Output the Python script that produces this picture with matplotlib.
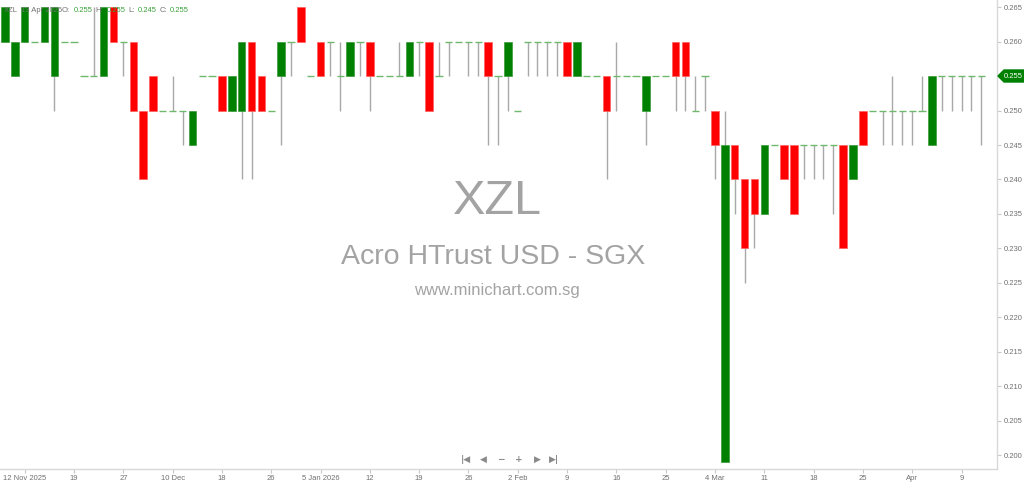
import numpy as np
import matplotlib
matplotlib.use('Agg')
import matplotlib.pyplot as plt
from matplotlib.patches import Polygon

# OHLC values (one row per trading day)
opens = [0.260, 0.255, 0.260, 0.260, 0.260, 0.255, 0.260, 0.260, 0.255, 0.255,
         0.255, 0.265, 0.260, 0.260, 0.250, 0.255, 0.250, 0.250, 0.250, 0.245,
         0.255, 0.255, 0.255, 0.250, 0.250, 0.260, 0.255, 0.250, 0.255, 0.260,
         0.265, 0.255, 0.260, 0.260, 0.255, 0.255, 0.260, 0.260, 0.255, 0.255,
         0.255, 0.255, 0.260, 0.260, 0.255, 0.260, 0.260, 0.260, 0.260, 0.260,
         0.255, 0.255, 0.250, 0.260, 0.260, 0.260, 0.260, 0.260, 0.255, 0.255,
         0.255, 0.255, 0.255, 0.255, 0.255, 0.250, 0.255, 0.255, 0.260, 0.260,
         0.250, 0.255, 0.250, 0.199, 0.245, 0.240, 0.240, 0.235, 0.245, 0.245,
         0.245, 0.245, 0.245, 0.245, 0.245, 0.245, 0.240, 0.250, 0.250, 0.250,
         0.250, 0.250, 0.250, 0.250, 0.245, 0.255, 0.255, 0.255, 0.255, 0.255]
highs = [0.265, 0.260, 0.265, 0.260, 0.265, 0.265, 0.260, 0.260, 0.255, 0.265,
         0.265, 0.265, 0.260, 0.260, 0.250, 0.255, 0.250, 0.255, 0.250, 0.250,
         0.255, 0.255, 0.255, 0.255, 0.260, 0.260, 0.255, 0.250, 0.260, 0.260,
         0.265, 0.255, 0.260, 0.260, 0.260, 0.260, 0.260, 0.260, 0.255, 0.255,
         0.260, 0.260, 0.260, 0.260, 0.260, 0.260, 0.260, 0.260, 0.260, 0.260,
         0.255, 0.260, 0.250, 0.260, 0.260, 0.260, 0.260, 0.260, 0.260, 0.255,
         0.255, 0.255, 0.260, 0.255, 0.255, 0.255, 0.255, 0.255, 0.260, 0.260,
         0.255, 0.255, 0.250, 0.250, 0.245, 0.240, 0.240, 0.245, 0.245, 0.245,
         0.245, 0.245, 0.245, 0.245, 0.245, 0.245, 0.245, 0.250, 0.250, 0.250,
         0.255, 0.250, 0.250, 0.255, 0.255, 0.255, 0.255, 0.255, 0.255, 0.255]
lows = [0.260, 0.255, 0.260, 0.260, 0.260, 0.250, 0.260, 0.260, 0.255, 0.255,
        0.255, 0.260, 0.255, 0.250, 0.240, 0.250, 0.250, 0.250, 0.245, 0.245,
        0.255, 0.255, 0.250, 0.250, 0.240, 0.240, 0.250, 0.250, 0.245, 0.255,
        0.260, 0.255, 0.255, 0.255, 0.250, 0.255, 0.255, 0.250, 0.255, 0.255,
        0.255, 0.255, 0.255, 0.250, 0.255, 0.255, 0.260, 0.255, 0.255, 0.245,
        0.245, 0.250, 0.250, 0.255, 0.255, 0.255, 0.255, 0.255, 0.255, 0.255,
        0.255, 0.240, 0.250, 0.255, 0.255, 0.245, 0.255, 0.255, 0.250, 0.250,
        0.250, 0.250, 0.240, 0.199, 0.235, 0.225, 0.230, 0.235, 0.245, 0.240,
        0.235, 0.240, 0.240, 0.240, 0.235, 0.230, 0.240, 0.245, 0.250, 0.245,
        0.245, 0.245, 0.245, 0.250, 0.245, 0.250, 0.250, 0.250, 0.250, 0.245]
closes = [0.265, 0.260, 0.265, 0.260, 0.265, 0.265, 0.260, 0.260, 0.255, 0.255,
          0.265, 0.260, 0.260, 0.250, 0.240, 0.250, 0.250, 0.250, 0.250, 0.250,
          0.255, 0.255, 0.250, 0.255, 0.260, 0.250, 0.250, 0.250, 0.260, 0.260,
          0.260, 0.255, 0.255, 0.260, 0.255, 0.260, 0.260, 0.255, 0.255, 0.255,
          0.255, 0.260, 0.260, 0.250, 0.255, 0.260, 0.260, 0.260, 0.260, 0.255,
          0.255, 0.260, 0.250, 0.260, 0.260, 0.260, 0.260, 0.255, 0.260, 0.255,
          0.255, 0.250, 0.255, 0.255, 0.255, 0.255, 0.255, 0.255, 0.255, 0.255,
          0.250, 0.255, 0.245, 0.245, 0.240, 0.230, 0.235, 0.245, 0.245, 0.240,
          0.235, 0.245, 0.245, 0.245, 0.245, 0.230, 0.245, 0.245, 0.250, 0.250,
          0.250, 0.250, 0.250, 0.250, 0.255, 0.255, 0.255, 0.255, 0.255, 0.255]

# x-axis labels, one every 5 bars starting at bar 2
tick_pos = [2, 7, 12, 17, 22, 27, 32, 37, 42, 47, 52, 57, 62, 67, 72, 77, 82, 87, 92, 97]
tick_labels = ['12 Nov 2025', '19', '27', '10 Dec', '18', '26', '5 Jan 2026', '12', '19', '26',
               '2 Feb', '9', '16', '25', '4 Mar', '11', '18', '25', 'Apr', '9']

GREEN = '#008000'
RED = '#ff0000'
DASH = '#6fb96f'
WICK = '#a8a8a8'
FONT = 'Liberation Sans'
W, H = 1024, 484

fig = plt.figure(figsize=(10.24, 4.84), dpi=100)
ax = fig.add_axes([0, 15 / H, 997 / W, 469 / H])

x = np.arange(len(opens))
o = np.array(opens)
h = np.array(highs)
l = np.array(lows)
c = np.array(closes)

# wicks
ax.vlines(x, l, h, color=WICK, lw=1, zorder=1)

# bodies
up = c > o
down = c < o
flat = c == o
ax.bar(x[up], c[up] - o[up], bottom=o[up], width=0.75, color=GREEN, edgecolor='#3a9a3a', lw=0.5, zorder=2)
ax.bar(x[down], o[down] - c[down], bottom=c[down], width=0.75, color=RED, edgecolor='#ff6060', lw=0.5, zorder=2)
ax.hlines(c[flat], x[flat] - 0.37, x[flat] + 0.37, color=DASH, lw=1, zorder=2)

ax.set_xlim(-0.51, 100.6)
ax.set_ylim(0.19797, 0.26605)

ax.yaxis.tick_right()
ax.set_yticks(np.arange(0.200, 0.2651, 0.005))
ax.yaxis.set_major_formatter(plt.FormatStrFormatter('%.3f'))
ax.set_xticks(tick_pos)
ax.set_xticklabels(tick_labels)
ax.tick_params(axis='both', length=3, width=0.8, color='#c8c8c8', labelcolor='#707070',
               labelsize=5.5, pad=1.5)
for lab in ax.get_xticklabels() + ax.get_yticklabels():
    lab.set_family(FONT)
for s in ['top', 'left']:
    ax.spines[s].set_visible(False)
for s in ['right', 'bottom']:
    ax.spines[s].set_color('#d8d8d8')
    ax.spines[s].set_linewidth(1)

# last price tag
ty = 1 - 76 / H
tag = Polygon([(998 / W, ty), (1004 / W, ty + 6 / H), (1024 / W, ty + 6 / H),
               (1024 / W, ty - 6 / H), (1004 / W, ty - 6 / H)],
              closed=True, transform=fig.transFigure, color=GREEN, zorder=5)
fig.patches.append(tag)
fig.text(1013 / W, ty, '0.255', color='white', fontsize=5.5, ha='center', va='center',
         family=FONT, zorder=6)

# watermark
wm = '#a3a3a3'
fig.text(497 / W, 1 - 201 / H, 'XZL', color=wm, fontsize=35, ha='center', va='center',
         family=FONT)
fig.text(493 / W, 1 - 257 / H, 'Acro HTrust USD - SGX', color=wm, fontsize=20.5, ha='center',
         va='center', family=FONT)
fig.text(497 / W, 1 - 291 / H, 'www.minichart.com.sg', color=wm, fontsize=12, ha='center',
         va='center', family=FONT)

# info line at top left
info = [(4, 'XZL', '#707070'), (21, '13 Apr 2026', '#707070'), (62, 'O:', '#707070'),
        (74, '0.255', '#3aa03a'), (95, 'H:', '#707070'), (107, '0.255', '#3aa03a'),
        (128, 'L:', '#707070'), (138, '0.245', '#3aa03a'), (160, 'C:', '#707070'),
        (170, '0.255', '#3aa03a')]
for px, txt, col in info:
    fig.text(px / W, 1 - 10 / H, txt, color=col, fontsize=5.5, ha='left', va='center',
             family=FONT)

# navigation buttons
nav = [(466, '|◀'), (483, '◀'), (501, '−'), (519, '+'), (537, '▶'), (554, '▶|')]
for px, txt in nav:
    fig.text(px / W, 1 - 459 / H, txt, color='#8a8a8a', fontsize=6.5, ha='center', va='center',
             fontweight='bold')

fig.savefig('out.png', dpi=100)
